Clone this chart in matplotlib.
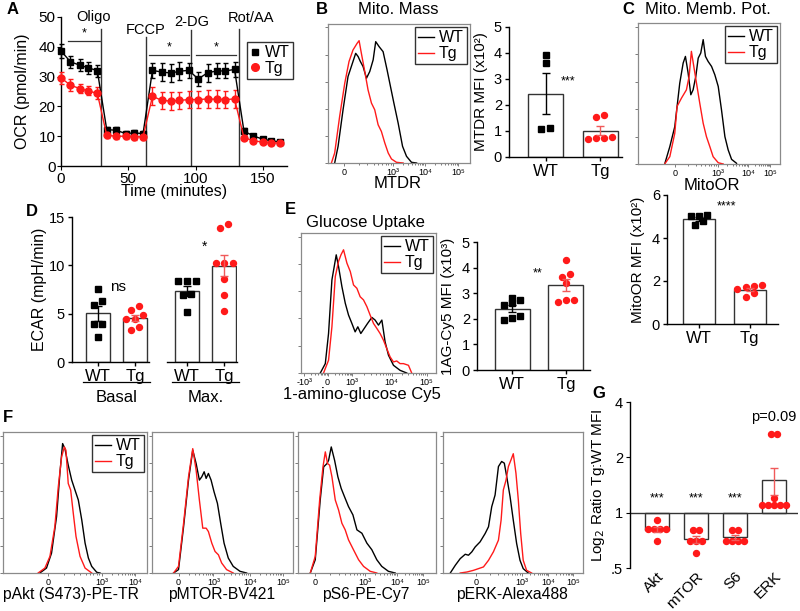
import numpy as np
import matplotlib
matplotlib.use('Agg')
import matplotlib.pyplot as plt
from matplotlib.lines import Line2D

plt.rcParams['font.family'] = ['Liberation Sans', 'DejaVu Sans']
plt.rcParams['axes.linewidth'] = 1.0

W, H = 800, 611
RED = '#ff1a1a'
ERR_RED = '#f05a5a'

# ---------------- data ----------------
# A: OCR trace (Seahorse)
a_time = [0, 7, 14, 20, 27, 34, 41, 48, 54, 61, 68, 75, 82, 88, 95,
          102, 109, 116, 122, 129, 136, 143, 150, 156, 163]
a_wt = [38.6, 35.0, 33.8, 33.0, 32.0, 12.2, 12.0, 10.9, 11.1, 10.9,
        32.1, 31.5, 31.2, 31.8, 32.1, 29.2, 31.3, 31.9, 31.9, 32.4,
        11.7, 10.1, 9.0, 8.5, 8.1]
a_wt_err = [2.5, 2, 2, 2, 2, 1, 1, 1, 1, 1, 2.5, 3, 3, 3, 2.5,
            2.5, 3, 2.5, 2.5, 2.5, 1, 0.8, 0.7, 0.7, 0.7]
a_tg = [29.6, 27.1, 26.0, 25.2, 24.4, 10.3, 10.0, 10.0, 9.8, 9.8,
        23.4, 22.0, 21.8, 22.0, 22.3, 22.3, 22.5, 22.4, 22.3, 22.5,
        9.5, 8.5, 8.0, 7.8, 7.7]
a_tg_err = [2, 2, 1.5, 1.5, 2, 1, 1, 1, 1, 1, 3, 3, 3, 3, 3,
            3, 3, 3, 3, 3, 0.8, 0.8, 0.7, 0.7, 0.7]
a_inject = [30, 63, 97, 132]
a_inject_top = [46, 43.3, 45.5, 46]
a_inject_lbl = ['Oligo', 'FCCP', '2-DG', 'Rot/AA']
a_lbl_x = [24, 63, 97, 141]
a_lbl_y = [50, 45.6, 48.3, 49.7]
a_sig = [(5.3, 29, 42), (65.5, 95, 37.2), (100.6, 130.4, 37.2)]

# B: MTDR histograms (x, y in % of axis)
b_x_wt = [4.7, 7.1, 10.6, 14.1, 17.2, 19.5, 21.2, 22.8, 24.7, 27.1, 29.4, 31.8,
          33.6, 36.0, 38.8, 41.6, 44.0, 46.4, 49.4, 52.5, 55.3, 58.8, 62.4]
b_y_wt = [0, 12, 38.3, 62.2, 71.8, 78.9, 76.6, 73, 69.4, 61, 65.8, 74.2,
          87.3, 83.7, 80.1, 67, 55, 43.1, 28.7, 12, 4.8, 0.5, 0]
b_x_tg = [2.4, 4.7, 8.2, 11.8, 14.8, 17.6, 20.5, 21.9, 23.5, 25.9, 28.2, 30.6,
          32.9, 35.3, 37.6, 40.0, 42.4, 44.7, 48.2, 52.9]
b_y_tg = [0, 7.2, 33.5, 57.4, 73, 81.3, 86.1, 88, 78.9, 65.8, 52.6, 43.1,
          38.3, 27.5, 22.7, 14.4, 7.2, 2.9, 0.5, 0]
b_ticks = [11.1, 45.9, 68.2, 91.8]
b_ticklbl = ['0', '10³', '10⁴', '10⁵']
b_wt_pts = [3.93, 3.63, 1.07, 1.13]
b_tg_pts = [1.54, 1.60, 0.69, 0.73, 0.77, 0.73]

# C: MitoOR histograms
c_x_wt = [18.8, 22.4, 25.9, 29.4, 31.8, 33.4, 35.3, 37.2, 38.8, 40.7, 42.4, 44.2,
          45.9, 47.5, 49.4, 51.8, 54.1, 56.5, 58.8, 61.2, 63.5, 65.9, 69.4]
c_y_wt = [0, 12.3, 26.5, 57.3, 71.6, 76.3, 64.5, 49.1, 52.6, 62.1, 75.1, 78.7,
          88.2, 76.3, 72.7, 69.2, 63.3, 55, 38.4, 19.4, 10, 3.3, 0.5]
c_x_tg = [18.8, 22.4, 25.9, 27.5, 30.6, 34.1, 36.0, 37.6, 39.3, 41.2, 43.5, 45.9,
          48.2, 50.6, 52.9, 56.5, 60.0]
c_y_tg = [0, 5.2, 21.8, 40.8, 46.7, 52.6, 62.1, 79.9, 69.2, 57.3, 43.1, 28.9,
          19.4, 12.3, 5.2, 0.9, 0]
c_ticks = [25.9, 56.5, 77.6, 92.9]
c_ticklbl = ['0', '10³', '10⁴', '10⁵']
c_wt_pts = [5.07, 5.02, 4.79, 5.02, 4.60]
c_tg_pts = [1.75, 1.62, 1.72, 1.82, 1.25, 1.44]

# D: ECAR
d_basal_wt = [7.59, 6.31, 5.86, 3.9, 3.9, 2.59]
d_basal_tg = [5.76, 5.41, 4.48, 4.83, 4.48, 3.28, 3.62]
d_max_wt = [8.4, 8.4, 8.35, 6.9, 7.0, 5.2]
d_max_tg = [14.24, 13.9, 10.24, 10.24, 10.24, 8.62, 6.9, 5.28]

# E: glucose uptake
e_x_wt = [14.3, 18.0, 20.4, 22.9, 26.1, 27.8, 30.3, 32.8, 35.2, 37.7, 40.1, 42.1,
          44.3, 46.8, 49.3, 52.5, 54.9, 57.4, 59.9, 62.3, 64.8, 68.5, 73.4, 78.3]
e_y_wt = [0, 6.7, 28.2, 66.5, 84.4, 76.1, 61.7, 49.8, 41.4, 35.4, 29.4, 33,
          28.2, 31.8, 35.4, 39.7, 37.8, 34.2, 37.8, 22.2, 12.7, 5.5, 1.9, 0]
e_x_tg = [16.7, 20.4, 22.9, 25.4, 27.8, 29.6, 31.5, 34.0, 36.5, 38.9, 41.4, 43.8,
          46.3, 48.8, 51.2, 53.7, 56.2, 58.6, 61.1, 63.5, 66.0, 68.5, 70.9, 73.4,
          75.9, 79.6, 82.0]
e_y_tg = [0, 9.1, 33, 68.9, 79.7, 84.4, 88, 78.5, 72.5, 62.9, 60.5, 54.5,
          52.2, 47.4, 41.4, 35.4, 31.8, 28.2, 23.4, 17.5, 11.5, 7.9, 8.6, 6.7,
          6.7, 5.5, 0]
e_ticks = [2.5, 19.7, 37.7, 67.2, 93.1]
e_ticklbl = ['-10³', '0', '10³', '10⁴', '10⁵']
e_wt_pts = [2.8, 2.75, 2.6, 2.55, 2.05, 1.95, 2.1]
e_tg_pts = [4.3, 3.75, 3.65, 3.4, 2.75, 2.75, 2.65]

# F: phospho-flow histograms
f1_x_wt = [25.6, 30.2, 33.7, 37.2, 39.5, 41.4, 43.0, 45.3, 47.7, 50.0, 52.3, 54.7,
           57.0, 59.3, 61.6, 65.1, 67.4]
f1_y_wt = [0, 3.5, 14.1, 40, 70.6, 91.8, 88.2, 76.5, 65.9, 58.8, 51.8, 37.6,
           21.2, 10.6, 4.7, 0.5, 0]
f1_x_tg = [24.4, 29.1, 32.6, 36.0, 38.4, 40.7, 42.6, 43.7, 45.3, 47.0, 48.8, 50.7,
           53.5, 57.0, 61.6]
f1_y_tg = [0, 3.5, 11.8, 32.9, 61.2, 82.4, 89.4, 87.1, 63.5, 58.8, 42.4, 25.9,
           11.8, 3.5, 0]
f1_ticks = [31.4, 68.6, 91.9]
f1_ticklbl = ['0', '10³', '10⁴']

f2_x_wt = [15.3, 18.8, 22.4, 25.9, 28.9, 31.3, 33.6, 35.3, 37.0, 38.4, 40.0, 41.9,
           44.0, 46.4, 48.7, 51.1, 54.1, 57.6, 62.4, 67.1]
f2_y_wt = [0, 2.4, 32.9, 65.9, 87.1, 77.6, 65.9, 68.2, 71.8, 67.1, 70.6, 65.9,
           57.6, 49.4, 35.3, 21.2, 10.6, 4.7, 1.2, 0]
f2_x_tg = [15.3, 18.8, 22.4, 25.9, 28.9, 31.3, 33.6, 36.0, 38.4, 40.0, 42.4, 44.7,
           47.1, 49.4, 52.9, 57.6]
f2_y_tg = [0, 4.7, 35.3, 68.2, 88.2, 72.9, 51.8, 31.8, 31.8, 29.4, 21.2, 15.3,
           12.9, 7.1, 2.4, 0]
f2_ticks = [18.8, 43.5, 69.4, 92.9]
f2_ticklbl = ['0', '10³', '10⁴', '10⁵']

f3_x_wt = [8.9, 12.5, 16.1, 18.6, 21.0, 22.2, 24.1, 26.5, 28.9, 31.3, 33.7, 36.6,
           39.8, 42.7, 46.3, 49.9, 53.5, 57.1, 60.7, 65.5, 70.4]
f3_y_wt = [0, 9.4, 51.8, 75.3, 77.6, 80, 89.4, 80, 68.2, 60, 54.1, 47.1,
           41.2, 30.6, 28.2, 21.2, 16.5, 9.4, 4.7, 1.2, 0]
f3_x_tg = [8.9, 12.5, 15.7, 18.1, 19.8, 21.4, 22.9, 24.6, 27.0, 29.4, 31.8, 34.2,
           36.6, 40.2, 43.9, 47.5, 52.3, 57.1]
f3_y_tg = [0, 11.8, 51.8, 75.3, 85.9, 77.6, 76.5, 68.2, 51.8, 44.7, 35.3, 30.6,
           23.5, 16.5, 9.4, 4.7, 1.2, 0]
f3_ticks = [12.3, 48.6, 71.7, 90.6]
f3_ticklbl = ['0', '10³', '10⁴', '10⁵']

f4_x_wt = [5.2, 8.8, 12.3, 15.9, 18.2, 20.6, 23.0, 26.5, 30.1, 32.5, 34.8, 37.2,
           39.6, 41.9, 43.8, 45.5, 47.9, 50.2, 52.6, 55.0, 57.3, 60.9]
f4_y_wt = [0, 5.5, 10.2, 13.3, 12.6, 15, 18.5, 22.1, 28, 32.8, 47, 55.3,
           75.5, 79.1, 77.9, 68.4, 54.2, 37.5, 20.9, 9, 3.1, 0]
f4_x_tg = [12.3, 17.1, 21.8, 28.9, 32.5, 36.0, 39.6, 41.5, 43.1, 45.0, 46.7, 48.6,
           50.2, 52.1, 53.8, 55.5, 57.3, 59.7, 63.3]
f4_y_tg = [0, 0.7, 1.9, 4.3, 9, 15, 23.3, 37.5, 58.9, 65.8, 75.5, 80.3,
           84.6, 70.8, 51.8, 28, 9, 1.9, 0]
f4_ticks = [23.7, 56.2, 75.1, 92.9]
f4_ticklbl = ['0', '10³', '10⁴', '10⁵']

# G: log2 ratio Tg:WT MFI
g_names = ['Akt', 'mTOR', 'S6', 'ERK']
g_pts = [[0.91, 0.81, 0.81, 0.81, 0.81, 0.70],
         [0.80, 0.80, 0.70, 0.70, 0.70, 0.60],
         [0.80, 0.80, 0.70, 0.70, 0.70, 0.70],
         [2.67, 2.67, 1.20, 1.10, 1.10, 1.10, 1.10, 1.10]]
g_sig = ['***', '***', '***', 'p=0.09']

# ---------------- helpers ----------------
fig = plt.figure(figsize=(8, 6.11), dpi=100)


def px_axes(l, t, r, b):
    return fig.add_axes([l / W, 1 - b / H, (r - l) / W, (b - t) / H])


def ftext(x, y, s, **kw):
    kw.setdefault('ha', 'center')
    kw.setdefault('va', 'center')
    fig.text(x / W, 1 - y / H, s, **kw)


def swarm(vals, gap, step):
    # spread points with close values side by side (Prism style)
    order = np.argsort(vals)
    offs = np.zeros(len(vals))
    rows = []
    for i in order:
        if rows and abs(vals[i] - vals[rows[-1][0]]) < gap:
            rows[-1].append(i)
        else:
            rows.append([i])
    for row in rows:
        n = len(row)
        for k, i in enumerate(row):
            offs[i] = (k - (n - 1) / 2) * step
    return offs


def sem(v):
    v = np.asarray(v, float)
    return v.std(ddof=1) / np.sqrt(len(v))


def hist_panel(ax, wt, tg, ticks, ticklbl, legend=False):
    ax.plot(wt[0], wt[1], color='black', lw=1, label='WT')
    ax.plot(tg[0], tg[1], color=RED, lw=1, label='Tg')
    ax.set_xlim(0, 100)
    ax.set_ylim(0, 100)
    for sp in ax.spines.values():
        sp.set_color('#8a8a8a')
        sp.set_linewidth(0.9)
    ax.set_xticks(ticks)
    ax.set_xticklabels(ticklbl, fontsize=6.5)
    minor = []
    for p0, p1 in zip(ticks[:-1], ticks[1:]):
        minor += [p0 + (p1 - p0) * np.log10(k) for k in range(2, 10)]
    ax.set_xticks(minor, minor=True)
    ax.set_yticks([0, 19.5, 39, 58.5, 78, 97.5])
    ax.set_yticklabels([])
    ax.tick_params(which='both', direction='out', color='#666666', width=0.6, pad=1)
    ax.tick_params(which='major', length=2.5)
    ax.tick_params(which='minor', length=1.5)
    if legend:
        leg = ax.legend(loc='upper right', fontsize=11.5, frameon=True, fancybox=False,
                        edgecolor='black', handlelength=1.0, handletextpad=0.3,
                        borderpad=0.2, labelspacing=0.05, borderaxespad=0.2)
        leg.get_frame().set_linewidth(1.0)


def bar_panel(ax, groups, xs, colors, markers, gap, step, width, err_colors):
    for x, vals, c, m, ec in zip(xs, groups, colors, markers, err_colors):
        mean = np.mean(vals)
        ax.bar(x, mean, width=width, color='white', edgecolor='#333333', lw=1, zorder=1)
        offs = swarm(np.asarray(vals), gap, step)
        ax.plot(x + offs, vals, ls='none', marker=m, color=c,
                ms=4 if m == 's' else 4.3, zorder=3, clip_on=False)
        ax.errorbar(x, mean, yerr=sem(vals), color=ec, capsize=3.2, lw=1, zorder=4)
    ax.spines['top'].set_visible(False)
    ax.spines['right'].set_visible(False)
    ax.tick_params(labelsize=10.5, length=3, width=1, pad=2)


# ---------------- A ----------------
axA = px_axes(61, 17, 287, 166)
axA.errorbar(a_time, a_wt, yerr=a_wt_err, color='black', marker='s', ms=4.5, lw=1,
             capsize=1.8, elinewidth=1, clip_on=False, zorder=3)
axA.errorbar(a_time, a_tg, yerr=a_tg_err, color=RED, marker='o', ms=5, lw=1,
             capsize=1.8, elinewidth=1, clip_on=False, zorder=3)
axA.set_xlim(0, 168)
axA.set_ylim(0, 50)
axA.set_xticks([0, 50, 100, 150])
axA.set_yticks([0, 10, 20, 30, 40, 50])
axA.spines['top'].set_visible(False)
axA.spines['right'].set_visible(False)
axA.tick_params(labelsize=11, length=3, pad=1)
for t, top, lbl, lx, ly in zip(a_inject, a_inject_top, a_inject_lbl, a_lbl_x, a_lbl_y):
    axA.plot([t, t], [0, top], color='#333333', lw=1, zorder=1)
    axA.text(lx, ly, lbl, ha='center', va='center', fontsize=10.5, clip_on=False)
for x0, x1, y in a_sig:
    axA.plot([x0, x1], [y, y], color='#333333', lw=0.9)
    axA.text((x0 + x1) / 2, y + 0.6, '*', ha='center', va='bottom', fontsize=9)
axA.set_ylabel('OCR (pmol/min)', fontsize=11.5)
axA.yaxis.set_label_coords(-0.135, 0.5)
axA.set_xlabel('Time (minutes)', fontsize=11.5, labelpad=-1)
legA = axA.legend(handles=[Line2D([], [], marker='s', color='black', ls='none', ms=5),
                           Line2D([], [], marker='o', color=RED, ls='none', ms=5.5)],
                  labels=['WT', 'Tg'], loc='upper left', bbox_to_anchor=(247 / W, 1 - 42 / H),
                  bbox_transform=fig.transFigure, fontsize=11.5, frameon=True, fancybox=False,
                  edgecolor='black', handlelength=0.6, handletextpad=0.3, borderpad=0.2,
                  labelspacing=0.05, borderaxespad=0)
legA.get_frame().set_linewidth(1.0)

# ---------------- B ----------------
axBh = px_axes(328, 24, 470, 163)
hist_panel(axBh, (b_x_wt, b_y_wt), (b_x_tg, b_y_tg), b_ticks, b_ticklbl, legend=True)
ftext(398, 183, 'MTDR', fontsize=12)

axBb = px_axes(509, 27, 622, 157)
bar_panel(axBb, [b_wt_pts, b_tg_pts], [0, 1], ['black', RED], ['s', 'o'],
          0.23, 0.15, 0.64, ['black', ERR_RED])
axBb.set_xlim(-0.67, 1.4)
axBb.set_ylim(0, 5)
axBb.set_xticks([0, 1])
axBb.set_xticklabels(['WT', 'Tg'], fontsize=12)
axBb.set_yticks(range(6))
axBb.text(0.41, 2.92, '***', ha='center', va='center', fontsize=9)
axBb.set_ylabel('MTDR MFI (x10²)', fontsize=11)
axBb.yaxis.set_label_coords(-0.186, 0.5)

# ---------------- C ----------------
axCh = px_axes(638, 23, 780, 164)
hist_panel(axCh, (c_x_wt, c_y_wt), (c_x_tg, c_y_tg), c_ticks, c_ticklbl, legend=True)
ftext(712, 185, 'MitoOR', fontsize=12)

axCb = px_axes(667, 195, 778, 324)
bar_panel(axCb, [c_wt_pts, c_tg_pts], [0, 1], ['black', RED], ['s', 'o'],
          0.28, 0.16, 0.63, ['black', ERR_RED])
axCb.set_xlim(-0.63, 1.56)
axCb.set_ylim(0, 6)
axCb.set_xticks([0, 1])
axCb.set_xticklabels(['WT', 'Tg'], fontsize=12)
axCb.set_yticks([0, 2, 4, 6])
axCb.text(0.55, 5.49, '****', ha='center', va='center', fontsize=9)
axCb.set_ylabel('MitoOR MFI (x10²)', fontsize=11)
axCb.yaxis.set_label_coords(-0.2, 0.5)

# ---------------- D ----------------
axD1 = px_axes(72, 217, 149, 362)
axD2 = px_axes(167, 217, 237, 362)
bar_panel(axD1, [d_basal_wt, d_basal_tg], [0, 1], ['black', RED], ['s', 'o'],
          0.62, 0.23, 0.65, ['black', ERR_RED])
bar_panel(axD2, [d_max_wt, d_max_tg], [0, 1], ['black', RED], ['s', 'o'],
          0.62, 0.23, 0.65, ['black', ERR_RED])
axD1.set_xlim(-0.7, 1.38)
axD2.set_xlim(-0.54, 1.35)
for ax, name in [(axD1, 'Basal'), (axD2, 'Max.')]:
    ax.set_ylim(0, 15)
    ax.set_xticks([0, 1])
    ax.set_xticklabels(['WT', 'Tg'], fontsize=12)
    trans = ax.get_xaxis_transform()
    ax.plot([-0.4, 1.4], [-0.138, -0.138], color='black', lw=0.9, transform=trans, clip_on=False)
    ax.text(0.5, -0.245, name, ha='center', va='center', fontsize=12, transform=trans)
axD1.set_yticks([0, 5, 10, 15])
axD2.set_yticks([])
axD2.spines['left'].set_visible(False)
axD1.text(0.54, 7.76, 'ns', ha='center', va='center', fontsize=11)
axD2.text(0.46, 11.9, '*', ha='center', va='center', fontsize=10)
axD1.set_ylabel('ECAR (mpH/min)', fontsize=11.5)
axD1.yaxis.set_label_coords(-0.325, 0.5)

# ---------------- E ----------------
axEh = px_axes(301, 233, 436, 373)
hist_panel(axEh, (e_x_wt, e_y_wt), (e_x_tg, e_y_tg), e_ticks, e_ticklbl, legend=True)
ftext(362, 395, '1-amino-glucose Cy5', fontsize=12)

axEb = px_axes(477, 242, 590, 370)
bar_panel(axEb, [e_wt_pts, e_tg_pts], [0, 1], ['black', RED], ['s', 'o'],
          0.23, 0.15, 0.65, ['black', ERR_RED])
axEb.set_xlim(-0.66, 1.45)
axEb.set_ylim(0, 5)
axEb.set_xticks([0, 1])
axEb.set_xticklabels(['WT', 'Tg'], fontsize=12)
axEb.set_yticks(range(6))
axEb.text(0.48, 3.77, '**', ha='center', va='center', fontsize=9)
axEb.set_ylabel('1AG-Cy5 MFI (x10³)', fontsize=11)
axEb.yaxis.set_label_coords(-0.195, 0.5)

# ---------------- F ----------------
f_boxes = [(3, 147), (152, 293), (298, 436), (443, 583)]
f_data = [((f1_x_wt, f1_y_wt), (f1_x_tg, f1_y_tg), f1_ticks, f1_ticklbl),
          ((f2_x_wt, f2_y_wt), (f2_x_tg, f2_y_tg), f2_ticks, f2_ticklbl),
          ((f3_x_wt, f3_y_wt), (f3_x_tg, f3_y_tg), f3_ticks, f3_ticklbl),
          ((f4_x_wt, f4_y_wt), (f4_x_tg, f4_y_tg), f4_ticks, f4_ticklbl)]
f_labels = ['pAkt (S473)-PE-TR', 'pMTOR-BV421', 'pS6-PE-Cy7', 'pERK-Alexa488']
f_label_x = [71, 222, 366, 512]
for i, ((l, r), (wt, tg, tk, tl), lbl, lx) in enumerate(zip(f_boxes, f_data, f_labels, f_label_x)):
    ax = px_axes(l, 432, r, 573)
    hist_panel(ax, wt, tg, tk, tl, legend=(i == 0))
    ftext(lx, 595, lbl, fontsize=11.3)

# ---------------- G ----------------
axG = px_axes(630, 402, 798, 568)
axG.set_yscale('log', base=2)
for x, vals in enumerate(g_pts):
    mean = np.mean(vals)
    axG.bar(x, mean - 1, bottom=1, width=0.62, color='white', edgecolor='#333333', lw=1, zorder=1)
    offs = swarm(np.log2(vals), 0.11, 0.15)
    axG.plot(x + offs, vals, ls='none', marker='o', color=RED, ms=4.3, zorder=3)
    axG.errorbar(x, mean, yerr=sem(vals), color=ERR_RED, capsize=3.2, lw=1, zorder=4)
for x, s in enumerate(g_sig):
    y = 3.32 if s.startswith('p') else 1.19
    axG.text(x, y, s, ha='center', va='center', fontsize=9 if s == '***' else 10.5)
axG.axhline(1, color='#333333', lw=1, zorder=2)
axG.set_ylim(0.5, 4)
axG.set_xlim(-0.69, 3.62)
axG.set_yticks([0.5, 1, 2, 4])
axG.set_yticklabels(['.5', '1', '2', '4'])
axG.minorticks_off()
axG.set_xticks(range(4))
axG.set_xticklabels(g_names, rotation=45, ha='right', rotation_mode='anchor', fontsize=11)
axG.tick_params(axis='x', length=0, pad=1)
axG.tick_params(axis='y', labelsize=10.5, length=3, pad=2)
for sp in ['top', 'right', 'bottom']:
    axG.spines[sp].set_visible(False)
axG.set_ylabel('Log$_2$ Ratio Tg:WT MFI', fontsize=11)
axG.yaxis.set_label_coords(-0.137, 0.5)

# ---------------- titles and panel letters ----------------
ftext(398, 10, 'Mito. Mass', fontsize=12)
ftext(708, 10, 'Mito. Memb. Pot.', fontsize=12)
ftext(365, 222, 'Glucose Uptake', fontsize=12)
for lx, ly, s in [(13, 9, 'A'), (322, 10, 'B'), (628, 10, 'C'), (32, 212, 'D'),
                  (290, 210, 'E'), (8, 418, 'F'), (599, 394, 'G')]:
    ftext(lx, ly, s, fontsize=12, fontweight='bold')

fig.savefig('out.png', dpi=100)
